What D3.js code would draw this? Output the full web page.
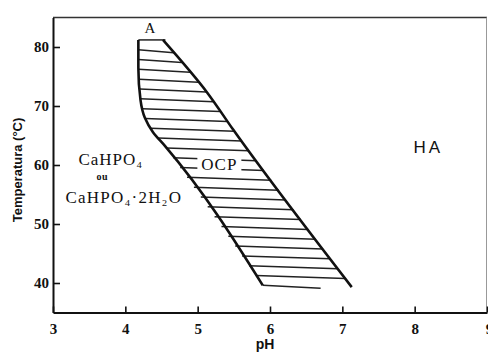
<!DOCTYPE html>
<html>
<head>
<meta charset="utf-8">
<script src="https://cdn.jsdelivr.net/npm/d3@7"></script>
<style>
  body { margin: 0; background: #fff; }
  svg { display: block; }
</style>
</head>
<body>
<div id="chart"></div>
<script>
// Axis ticks
const xTicks = [3, 4, 5, 6, 7, 8, 9];
const yTicks = [40, 50, 60, 70, 80];

// OCP zone boundaries, [pH, temperature] from top to bottom
const leftBoundary = [[4.18, 81.2], [4.18, 76.5], [4.21, 71.0], [4.27, 68.0], [4.38, 65.6], [4.55, 63.2], [5.90, 39.6]];
const rightBoundary = [[4.52, 81.2], [5.13, 72.3], [5.49, 66.0], [7.13, 39.3]];

// hatch lines inside the zone (temperatures of their left ends)
const hatchLevels = d3.range(26).map(i => 81.2 - i * 1.664);
const hatchSlant = 0.5;      // °C drop from left end to right end
const lastHatchEnd = 6.7;    // pH where the bottom hatch line stops

// region labels
const labels = [
  { text: "A", ph: 4.34, t: 82.4, font: "serif", size: 15, weight: "normal", spacing: 0 },
  { text: "CaHPO₄", ph: 3.80, t: 60.0, font: "serif", size: 17, weight: "normal", spacing: 1 },
  { text: "ou", ph: 3.68, t: 57.5, font: "serif", size: 10, weight: "bold", spacing: 0.5 },
  { text: "CaHPO₄·2H₂O", ph: 3.98, t: 53.6, font: "serif", size: 17, weight: "normal", spacing: 1.2 },
  { text: "HA", ph: 8.19, t: 62.1, font: "sans", size: 17, weight: "normal", spacing: 3 }
];
const ocpLabel = { text: "OCP", ph: 5.30, t: 59.2 };

const width = 488, height = 353;
const serif = "'Liberation Serif', 'DejaVu Serif', serif";
const sans = "'Liberation Sans', Arial, sans-serif";

const x = d3.scaleLinear().domain([3, 9]).range([53, 487]);
const y = d3.scaleLinear().domain([35, 85]).range([312.5, 17.5]);

const svg = d3.select("#chart").append("svg")
  .attr("width", width)
  .attr("height", height);

// frame: top and right edges
svg.append("line")
  .attr("x1", x(3)).attr("x2", x(9)).attr("y1", y(85)).attr("y2", y(85))
  .attr("stroke", "#333").attr("stroke-width", 1.6);
svg.append("line")
  .attr("x1", x(9) - 0.5).attr("x2", x(9) - 0.5).attr("y1", y(85)).attr("y2", y(35))
  .attr("stroke", "#999").attr("stroke-width", 1);

// axes
const xAxis = svg.append("g")
  .attr("transform", `translate(0,${y(35)})`)
  .call(d3.axisBottom(x).tickValues(xTicks).tickFormat(d3.format("d")).tickSizeInner(-6).tickSizeOuter(0).tickPadding(11));
const yAxis = svg.append("g")
  .attr("transform", `translate(${x(3)},0)`)
  .call(d3.axisLeft(y).tickValues(yTicks).tickFormat(d3.format("d")).tickSizeInner(-7).tickSizeOuter(0).tickPadding(4));

[xAxis, yAxis].forEach(g => {
  g.select(".domain").attr("stroke", "#111").attr("stroke-width", 2);
  g.selectAll(".tick line").attr("stroke", "#111").attr("stroke-width", 1.6);
  g.selectAll(".tick text")
    .attr("fill", "#111")
    .style("font-family", serif)
    .style("font-size", "15px")
    .style("font-weight", "bold");
});
// the 9 is only half visible at the right edge, as in the original scan
xAxis.selectAll(".tick text").filter(d => d === 9).attr("dx", "2px");

// axis titles
svg.append("text")
  .attr("x", 265).attr("y", 349)
  .attr("text-anchor", "middle")
  .style("font-family", sans).style("font-size", "14px").style("font-weight", "bold")
  .attr("fill", "#111")
  .text("pH");
svg.append("text")
  .attr("transform", "translate(22,170) rotate(-90)")
  .attr("text-anchor", "middle")
  .style("font-family", sans).style("font-size", "13px").style("font-weight", "bold")
  .attr("fill", "#111")
  .text("Temperatura (°C)");

// pH of a boundary at a given temperature
function phAt(boundary, t) {
  for (let i = 0; i < boundary.length - 1; i++) {
    const [p0, t0] = boundary[i], [p1, t1] = boundary[i + 1];
    if (t <= t0 && t >= t1) return p0 + (p1 - p0) * (t0 - t) / (t0 - t1);
  }
  return t > boundary[0][1] ? boundary[0][0] : boundary[boundary.length - 1][0];
}

// hatching
svg.append("g")
  .selectAll("line")
  .data(hatchLevels)
  .join("line")
  .attr("x1", t => x(phAt(leftBoundary, t)))
  .attr("y1", t => y(t))
  .attr("x2", (t, i) => i === hatchLevels.length - 1 ? x(lastHatchEnd) : x(phAt(rightBoundary, Math.max(t - hatchSlant, 39.3))))
  .attr("y2", (t, i) => i === 0 ? y(t) : y(t - hatchSlant))
  .attr("stroke", "#222")
  .attr("stroke-width", 1.5);

// zone boundaries
const line = d3.line().x(d => x(d[0])).y(d => y(d[1])).curve(d3.curveMonotoneY);
[leftBoundary, rightBoundary].forEach(b => {
  svg.append("path")
    .attr("d", line(b))
    .attr("fill", "none")
    .attr("stroke", "#111")
    .attr("stroke-width", 2.6);
});

// OCP label on white box
const ocpX = x(ocpLabel.ph), ocpY = y(ocpLabel.t);
svg.append("rect")
  .attr("x", ocpX - 22).attr("y", ocpY - 13)
  .attr("width", 44).attr("height", 15)
  .attr("fill", "#fff");
svg.append("text")
  .attr("x", ocpX).attr("y", ocpY)
  .attr("text-anchor", "middle")
  .style("font-family", serif).style("font-size", "17px")
  .style("letter-spacing", "1px")
  .attr("fill", "#111")
  .text(ocpLabel.text);

// region labels
svg.append("g")
  .selectAll("text")
  .data(labels)
  .join("text")
  .attr("x", d => x(d.ph))
  .attr("y", d => y(d.t))
  .attr("text-anchor", "middle")
  .style("font-family", d => d.font === "serif" ? serif : sans)
  .style("font-size", d => d.size + "px")
  .style("font-weight", d => d.weight)
  .style("letter-spacing", d => d.spacing + "px")
  .attr("fill", "#111")
  .text(d => d.text);
</script>
</body>
</html>
